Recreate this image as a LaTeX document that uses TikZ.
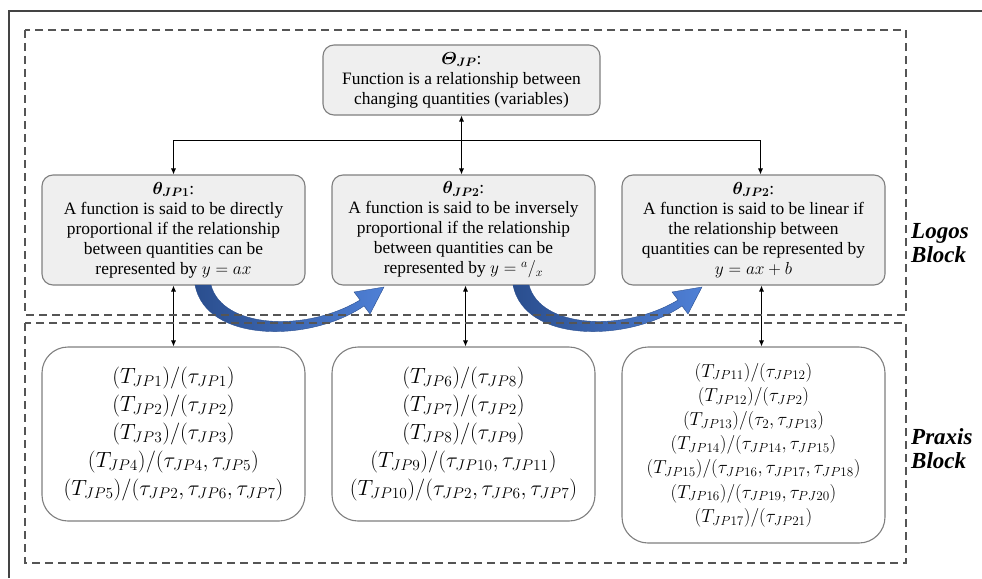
\RequirePackage{fix-cm}
\documentclass[tikz,border=0pt]{standalone}
\usepackage{amsmath}
\usepackage{bm}
\usepackage{fontspec}
\setmainfont{Liberation Serif}
\usetikzlibrary{arrows.meta}

\definecolor{boxline}{HTML}{7F7F7F}
\definecolor{boxfill}{HTML}{EFEFEF}
\definecolor{dashgray}{HTML}{555555}
\definecolor{framegray}{HTML}{444444}
\definecolor{arrowdark}{HTML}{2A4E8E}
\definecolor{arrowlight}{HTML}{4F80D6}

\begin{document}
\begin{tikzpicture}[x=1pt,y=-1pt,
  >={Latex[length=6pt,width=5pt]},
  logos/.style={draw=boxline, fill=boxfill, line width=1.1pt, rounded corners=11pt,
    align=center, inner sep=2pt, font=\fontsize{17.4}{20}\selectfont},
  praxis/.style={draw=boxline, fill=white, line width=1.1pt, rounded corners=26pt,
    align=center, inner sep=2pt},
  dashbox/.style={draw=dashgray, line width=1.5pt, dash pattern=on 8pt off 5pt},
  frameline/.style={draw=framegray, line width=1.2pt},
  conn/.style={draw=black, line width=0.8pt},
  blocklabel/.style={anchor=west, align=left, inner sep=0pt,
    font=\fontsize{23}{24}\selectfont\bfseries\itshape},
  bluearrow/.style={left color=arrowdark, right color=arrowlight, draw=arrowdark, line width=0.4pt}
]
\useasboundingbox (0,0) rectangle (982,578);

% outer frame
\draw[frameline] (9,578) -- (9,11) -- (982,11);

% top concept
\node[logos, minimum width=277, minimum height=70] (top) at (461.5,80)
  {$\bm{\varTheta_{JP}}$:\\Function is a relationship between\\changing quantities (variables)};

% logos row
\node[logos, minimum width=263, minimum height=110] (mid1) at (173.5,230)
  {$\bm{\theta_{JP1}}$:\\A function is said to be directly\\proportional if the relationship\\between quantities can be\\represented by $y = ax$};
\node[logos, minimum width=263, minimum height=110] (mid2) at (463.5,230)
  {$\bm{\theta_{JP2}}$:\\A function is said to be inversely\\proportional if the relationship\\between quantities can be\\represented by $y = {}^{a}/_{x}$};
\node[logos, minimum width=263, minimum height=110] (mid3) at (753.5,230)
  {$\bm{\theta_{JP2}}$:\\A function is said to be linear if\\the relationship between\\quantities can be represented by\\$y = ax + b$};

% praxis row
\node[praxis, minimum width=263, minimum height=174, font=\fontsize{22}{28}\selectfont] (prax1) at (173.5,434)
  {$(T_{JP1})/(\tau_{JP1})$\\
   $(T_{JP2})/(\tau_{JP2})$\\
   $(T_{JP3})/(\tau_{JP3})$\\
   $(T_{JP4})/(\tau_{JP4}, \tau_{JP5})$\\
   $(T_{JP5})/(\tau_{JP2}, \tau_{JP6}, \tau_{JP7})$};
\node[praxis, minimum width=263, minimum height=174, font=\fontsize{22}{28}\selectfont] (prax2) at (463.5,434)
  {$(T_{JP6})/(\tau_{JP8})$\\
   $(T_{JP7})/(\tau_{JP2})$\\
   $(T_{JP8})/(\tau_{JP9})$\\
   $(T_{JP9})/(\tau_{JP10}, \tau_{JP11})$\\
   $(T_{JP10})/(\tau_{JP2}, \tau_{JP6}, \tau_{JP7})$};
\node[praxis, minimum width=263, minimum height=196, font=\fontsize{18.8}{24.2}\selectfont] (prax3) at (753.5,445)
  {$(T_{JP11})/(\tau_{JP12})$\\
   $(T_{JP12})/(\tau_{JP2})$\\
   $(T_{JP13})/(\tau_{2}, \tau_{JP13})$\\
   $(T_{JP14})/(\tau_{JP14}, \tau_{JP15})$\\
   $(T_{JP15})/(\tau_{JP16}, \tau_{JP17}, \tau_{JP18})$\\
   $(T_{JP16})/(\tau_{JP19}, \tau_{PJ20})$\\
   $(T_{JP17})/(\tau_{JP21})$};

% connectors between the top concept and the logos row
\coordinate (br) at (461.5,140);
\draw[conn, <->] (top.south) -- (top.south |- mid2.north);
\draw[conn, ->] (br) -| (mid1.north);
\draw[conn, ->] (br) -| ([xshift=7pt]mid3.north);

% connectors between the logos row and the praxis row
\draw[conn, <->] (mid1.south) -- (prax1.north);
\draw[conn, <->] ([xshift=2pt]mid2.south) -- ([xshift=2pt]prax2.north);
\draw[conn, <->] ([xshift=8pt]mid3.south) -- ([xshift=8pt]prax3.north);

% curved block arrows from one logos box to the next
\foreach \dx in {0,318} {
  \begin{scope}[xshift=\dx pt]
    \shade[bluearrow]
      (195,285) .. controls (206,343) and (310,343) .. (364,306)
      -- (370,314) -- (384,287) -- (354,292) -- (360,300)
      .. controls (305,333) and (222,328) .. (211,285) -- cycle;
  \end{scope}
}

% block frames
\draw[dashbox] (25,30) rectangle (906,315);
\draw[dashbox] (25,323) rectangle (906,563);

% block labels
\node[blocklabel] (logoslabel) at (911,243) {Logos\\Block};
\node[blocklabel] (praxislabel) at (911,449) {Praxis\\Block};
\end{tikzpicture}
\end{document}
